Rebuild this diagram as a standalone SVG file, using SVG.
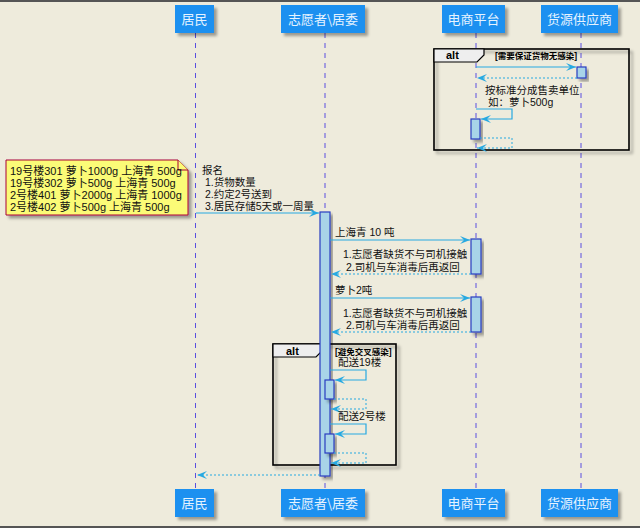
<svg xmlns="http://www.w3.org/2000/svg" width="640" height="528" viewBox="0 0 640 528">
<defs>
<filter id="sh" x="-20%" y="-20%" width="150%" height="150%">
<feDropShadow dx="3" dy="3" stdDeviation="1.5" flood-color="#000" flood-opacity="0.35"/>
</filter>
<marker id="ah" markerWidth="10" markerHeight="8" refX="10" refY="4" orient="auto" markerUnits="userSpaceOnUse">
<path d="M0,0 L10,4 L0,8 L4,4 Z" fill="#27A9E1"/>
</marker>
<style>
.pbox{fill:#1E90F0;filter:url(#sh);}
.ptxt{font-family:"Noto Sans CJK SC","Liberation Sans",sans-serif;font-size:13px;fill:#E6F3FF;text-anchor:middle;}
.life{stroke:#5A4FE0;stroke-width:1;stroke-dasharray:5,5;fill:none;}
.msg{stroke:#27A9E1;stroke-width:1.2;fill:none;marker-end:url(#ah);}
.ret{stroke:#27A9E1;stroke-width:1;stroke-dasharray:2,2;fill:none;marker-end:url(#ah);}
.act{fill:#A8D4E8;stroke:#2A3CC0;stroke-width:1.2;filter:url(#sh);}
.t{font-family:"Liberation Sans","Noto Sans CJK SC",sans-serif;font-size:10.5px;fill:#111;}
.nt{font-family:"Liberation Sans","Noto Sans CJK SC",sans-serif;font-size:11px;fill:#111;}
.frame{fill:none;stroke:#000;stroke-width:1.6;filter:url(#sh);}
.tab{fill:#EEEEEE;stroke:#000;stroke-width:1.2;}
.altt{font-family:"Liberation Sans",sans-serif;font-size:11px;font-weight:bold;fill:#000;}
.cond{font-family:"Liberation Sans","Noto Sans CJK SC",sans-serif;font-size:8.5px;font-weight:bold;fill:#000;}
.note{fill:#FBFB77;stroke:#A80036;stroke-width:1;filter:url(#sh);}
</style>
</defs>
<rect x="0" y="0" width="640" height="528" fill="#EEEBDC"/>
<rect x="0" y="0" width="640" height="2" fill="#555"/>
<rect x="0" y="526" width="640" height="2" fill="#555"/>

<g id="lifelines">
<line class="life" x1="195.5" y1="33" x2="195.5" y2="489"/>
<line class="life" x1="325" y1="33" x2="325" y2="489"/>
<line class="life" x1="476" y1="33" x2="476" y2="489"/>
<line class="life" x1="581" y1="33" x2="581" y2="489"/>
</g>

<g id="p-jumin">
<rect class="pbox" x="175" y="5" width="39" height="28"/>
<text class="ptxt" x="194.5" y="24">居民</text>
<rect class="pbox" x="175" y="489" width="39" height="28"/>
<text class="ptxt" x="194.5" y="508">居民</text>
</g>
<g id="p-zhiyuan">
<rect class="pbox" x="281" y="5" width="84" height="28"/>
<text class="ptxt" x="323" y="24">志愿者\居委</text>
<rect class="pbox" x="281" y="489" width="84" height="28"/>
<text class="ptxt" x="323" y="508">志愿者\居委</text>
</g>
<g id="p-dianshang">
<rect class="pbox" x="442" y="5" width="63" height="28"/>
<text class="ptxt" x="473.5" y="24">电商平台</text>
<rect class="pbox" x="442" y="489" width="63" height="28"/>
<text class="ptxt" x="473.5" y="508">电商平台</text>
</g>
<g id="p-huoyuan">
<rect class="pbox" x="541" y="5" width="77" height="28"/>
<text class="ptxt" x="579.5" y="24">货源供应商</text>
<rect class="pbox" x="541" y="489" width="77" height="28"/>
<text class="ptxt" x="579.5" y="508">货源供应商</text>
</g>

<g id="alt1">
<rect class="frame" x="434" y="49" width="195" height="101"/>
<path class="tab" d="M434,49 H484 V55 L477,62 H434 Z"/>
<text class="altt" x="446" y="59">alt</text>
<text class="cond" x="495" y="59">[需要保证货物无感染]</text>
</g>

<g id="alt2">
<rect class="frame" x="273" y="344" width="123" height="121"/>
<path class="tab" d="M273,344 H323 V350 L316,357 H273 Z"/>
<text class="altt" x="286" y="355">alt</text>
<text class="cond" x="335" y="355">[避免交叉感染]</text>
</g>

<g id="activations">
<rect class="act" x="577" y="67" width="9" height="11"/>
<rect class="act" x="471" y="119" width="9" height="20"/>
<rect class="act" x="320" y="212" width="10" height="264"/>
<rect class="act" x="471" y="239" width="10" height="35"/>
<rect class="act" x="471" y="297" width="10" height="35"/>
<rect class="act" x="325" y="380" width="9" height="19"/>
<rect class="act" x="325" y="434" width="9" height="19"/>
</g>

<g id="note">
<path class="note" d="M6,160 H178 L188,170 V215 H6 Z"/>
<path d="M178,160 V170 H188" fill="#FBFB77" stroke="#A80036" stroke-width="1"/>
<text class="nt" x="10" y="175">19号楼301 萝卜1000g 上海青 500g</text>
<text class="nt" x="10" y="187">19号楼302 萝卜500g 上海青 500g</text>
<text class="nt" x="10" y="199">2号楼401 萝卜2000g 上海青 1000g</text>
<text class="nt" x="10" y="211">2号楼402 萝卜500g 上海青 500g</text>
</g>

<g id="connectors">
<line class="msg" x1="476" y1="67" x2="576" y2="67"/>
<line class="ret" x1="577" y1="78" x2="477" y2="78"/>
<text class="t" x="485" y="94">按标准分成售卖单位</text>
<text class="t" x="485" y="106" xml:space="preserve"> 如：萝卜500g</text>
<polyline class="msg" points="476,109 512,109 512,119 481,119"/>
<polyline class="ret" points="480,138 512,138 512,148 477,148"/>

<text class="t" x="202" y="174">报名</text>
<text class="t" x="202" y="186" xml:space="preserve"> 1.货物数量</text>
<text class="t" x="202" y="198" xml:space="preserve"> 2.约定2号送到</text>
<text class="t" x="202" y="210" xml:space="preserve"> 3.居民存储5天或一周量</text>
<line class="msg" x1="196" y1="213" x2="319" y2="213"/>

<text class="t" x="335" y="236">上海青 10 吨</text>
<line class="msg" x1="330" y1="240" x2="470" y2="240"/>
<text class="t" x="343" y="258">1.志愿者缺货不与司机接触</text>
<text class="t" x="343" y="271" xml:space="preserve"> 2.司机与车消毒后再返回</text>
<line class="ret" x1="471" y1="274" x2="331" y2="274"/>

<text class="t" x="335" y="294">萝卜2吨</text>
<line class="msg" x1="330" y1="298" x2="470" y2="298"/>
<text class="t" x="343" y="317">1.志愿者缺货不与司机接触</text>
<text class="t" x="343" y="329" xml:space="preserve"> 2.司机与车消毒后再返回</text>
<line class="ret" x1="471" y1="332" x2="331" y2="332"/>

<text class="t" x="338" y="366">配送19楼</text>
<polyline class="msg" points="330,370 366,370 366,380 335,380"/>
<polyline class="ret" points="334,399 366,399 366,409 331,409"/>
<text class="t" x="338" y="420">配送2号楼</text>
<polyline class="msg" points="330,424 366,424 366,434 335,434"/>
<polyline class="ret" points="334,453 366,453 366,463 331,463"/>

<line class="ret" x1="320" y1="475" x2="197" y2="475"/>
</g>
</svg>
